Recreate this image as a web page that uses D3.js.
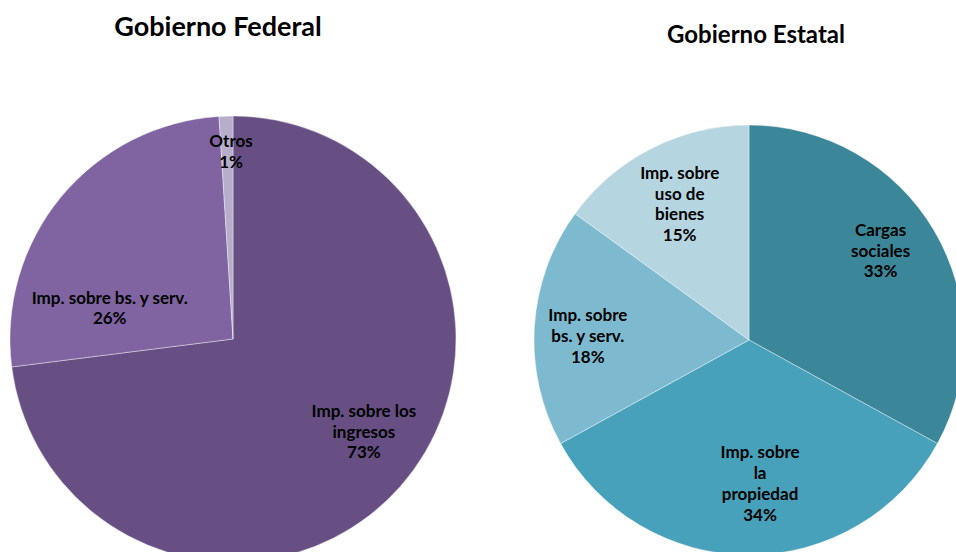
<!DOCTYPE html>
<html>
<head>
<meta charset="utf-8">
<script src="https://cdn.jsdelivr.net/npm/d3@7"></script>
<style>
  html, body { margin: 0; padding: 0; background: #ffffff; }
  svg { display: block; }
  text { font-family: Lato, "Open Sans", "DejaVu Sans", sans-serif; font-weight: 700; fill: #000; }
</style>
</head>
<body>
<svg id="chart" width="956" height="552"></svg>
<script>
// Federal government revenue composition
const federalTitle = "Gobierno Federal";
const federalCategories = [
  ["Imp. sobre los", "ingresos"],
  ["Imp. sobre bs. y serv."],
  ["Otros"]
];
const federalValues = [73, 26, 1];

// State government revenue composition
const stateTitle = "Gobierno Estatal";
const stateCategories = [
  ["Cargas", "sociales"],
  ["Imp. sobre", "la", "propiedad"],
  ["Imp. sobre", "bs. y serv."],
  ["Imp. sobre", "uso de", "bienes"]
];
const stateValues = [33, 34, 18, 15];

// Layout and styling for each pie
const federalColors = ["#674f83", "#8064a2", "#b8aecc"];
const stateColors = ["#3c8699", "#47a1ba", "#7dbad0", "#b5d5e1"];
// label anchor as [angle in degrees clockwise from 12 o'clock, fraction of radius]
const federalLabelAt = [[125.4, 0.72], [284.1, 0.57], [359.4, 0.84]];
const stateLabelAt = [[55.8, 0.74], [175.6, 0.67], [271.4, 0.75], [333.0, 0.71]];

const svg = d3.select("#chart");

function drawPie(cfg) {
  const g = svg.append("g").attr("transform", `translate(${cfg.cx},${cfg.cy})`);
  const pie = d3.pie().sort(null).value(d => d.value);
  const arc = d3.arc().innerRadius(0).outerRadius(cfg.r);
  const data = cfg.values.map((v, i) => ({ value: v, lines: cfg.categories[i], i }));
  const arcs = pie(data);

  g.selectAll("path.slice")
    .data(arcs)
    .join("path")
    .attr("class", "slice")
    .attr("d", arc)
    .attr("fill", d => cfg.colors[d.index])
    .attr("stroke", "rgba(255,255,255,0.55)")
    .attr("stroke-width", 0.7);

  const lh = cfg.lineHeight;
  const labels = g.selectAll("text.lbl")
    .data(arcs)
    .join("text")
    .attr("class", "lbl")
    .attr("text-anchor", "middle")
    .style("font-size", cfg.fontSize + "px")
    .attr("transform", d => {
      const [deg, f] = cfg.labelAt[d.index];
      const a = deg * Math.PI / 180;
      const x = Math.sin(a) * cfg.r * f;
      const y = -Math.cos(a) * cfg.r * f;
      return `translate(${x},${y})`;
    });

  labels.each(function(d) {
    const lines = d.data.lines.concat([d.data.value + "%"]);
    const n = lines.length;
    const t = d3.select(this);
    lines.forEach((s, k) => {
      t.append("tspan")
        .attr("x", 0)
        .attr("y", (k - (n - 1) / 2) * lh)
        .attr("dy", "0.35em")
        .text(s);
    });
  });

  svg.append("text")
    .attr("x", cfg.titleX)
    .attr("y", cfg.titleY)
    .attr("text-anchor", "middle")
    .style("font-size", cfg.titleSize + "px")
    .text(cfg.title);
}

drawPie({
  cx: 233, cy: 339, r: 223,
  values: federalValues, categories: federalCategories, colors: federalColors,
  labelAt: federalLabelAt, fontSize: 17, lineHeight: 20.5,
  title: federalTitle, titleX: 218, titleY: 36, titleSize: 27
});

drawPie({
  cx: 749, cy: 340, r: 215,
  values: stateValues, categories: stateCategories, colors: stateColors,
  labelAt: stateLabelAt, fontSize: 17, lineHeight: 20.8,
  title: stateTitle, titleX: 756, titleY: 43, titleSize: 24
});
</script>
</body>
</html>
